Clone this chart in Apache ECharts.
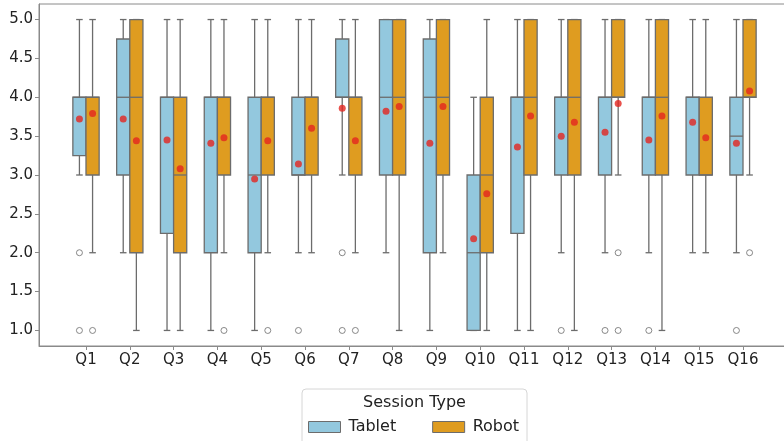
<!DOCTYPE html>
<html>
<head>
<meta charset="utf-8">
<title>Session Type ratings</title>
<script src="https://cdn.jsdelivr.net/npm/echarts@6/dist/echarts.min.js"></script>
<style>
  html, body { margin: 0; padding: 0; background: #fff; }
  #chart { width: 784px; height: 441px; }
</style>
</head>
<body>
<div id="chart"></div>
<script>
// Questionnaire items
const categories = ['Q1','Q2','Q3','Q4','Q5','Q6','Q7','Q8','Q9','Q10','Q11','Q12','Q13','Q14','Q15','Q16'];
const yTicks = [1.0, 1.5, 2.0, 2.5, 3.0, 3.5, 4.0, 4.5, 5.0];

// Tablet sessions: whisker low, Q1, median, Q3, whisker high, mean, outliers
const tabletLow    = [3, 2, 1, 1, 1, 2, 3, 2, 1, 1, 1, 2, 2, 2, 2, 2];
const tabletQ1     = [3.25, 3, 2.25, 2, 2, 3, 4, 3, 2, 1, 2.25, 3, 3, 3, 3, 3];
const tabletMedian = [4, 4, 4, 4, 3, 3, 4, 4, 4, 2, 4, 4, 4, 4, 4, 3.5];
const tabletQ3     = [4, 4.75, 4, 4, 4, 4, 4.75, 5, 4.75, 3, 4, 4, 4, 4, 4, 4];
const tabletHigh   = [5, 5, 5, 5, 5, 5, 5, 5, 5, 4, 5, 5, 5, 5, 5, 5];
const tabletMean   = [3.72, 3.72, 3.45, 3.41, 2.95, 3.14, 3.86, 3.82, 3.41, 2.18, 3.36, 3.50, 3.55, 3.45, 3.68, 3.41];
const tabletOutliers = [[2, 1], [], [], [], [], [1], [2, 1], [], [], [], [], [1], [1], [1], [], [1]];

// Robot sessions
const robotLow    = [2, 1, 1, 2, 2, 2, 2, 1, 2, 1, 1, 1, 3, 1, 2, 3];
const robotQ1     = [3, 2, 2, 3, 3, 3, 3, 3, 3, 2, 3, 3, 4, 3, 3, 4];
const robotMedian = [4, 4, 3, 4, 4, 4, 4, 4, 4, 3, 4, 4, 4, 4, 3, 4];
const robotQ3     = [4, 5, 4, 4, 4, 4, 4, 5, 5, 4, 5, 5, 5, 5, 4, 5];
const robotHigh   = [5, 5, 5, 5, 5, 5, 5, 5, 5, 5, 5, 5, 5, 5, 5, 5];
const robotMean   = [3.79, 3.44, 3.08, 3.48, 3.44, 3.60, 3.44, 3.88, 3.88, 2.76, 3.76, 3.68, 3.92, 3.76, 3.48, 4.08];
const robotOutliers = [[1], [], [], [1], [1], [], [1], [], [], [], [], [], [2, 1], [], [], [2]];

// Styling
const TABLET_COLOR = '#93c8de';
const ROBOT_COLOR = '#df9c20';
const LINE_COLOR = '#6c6c6c';
const MEAN_COLOR = '#e3261f';
const BOX_WIDTH = 0.3;     // in category units
const DODGE = 0.15;        // offset of each group from the category centre
const FONT = 'DejaVu Sans';

function boxRows(low, q1, med, q3, high) {
  return categories.map((c, i) => [i, low[i], q1[i], med[i], q3[i], high[i]]);
}

function makeBoxRenderer(offset, fill) {
  return function (params, api) {
    const x = api.value(0) + offset;
    const low = api.value(1), q1 = api.value(2), med = api.value(3), q3 = api.value(4), high = api.value(5);
    const half = BOX_WIDTH / 2;
    const cap = BOX_WIDTH / 4;
    const lineStyle = { stroke: LINE_COLOR, lineWidth: 1.3 };
    const seg = (a, b) => ({
      type: 'line',
      shape: { x1: a[0], y1: a[1], x2: b[0], y2: b[1] },
      style: lineStyle
    });
    const tl = api.coord([x - half, q3]);
    const br = api.coord([x + half, q1]);
    return {
      type: 'group',
      children: [
        seg(api.coord([x, q3]), api.coord([x, high])),
        seg(api.coord([x, q1]), api.coord([x, low])),
        seg(api.coord([x - cap, high]), api.coord([x + cap, high])),
        seg(api.coord([x - cap, low]), api.coord([x + cap, low])),
        {
          type: 'rect',
          shape: { x: tl[0], y: tl[1], width: br[0] - tl[0], height: br[1] - tl[1] },
          style: { fill: fill, stroke: LINE_COLOR, lineWidth: 1.3 }
        },
        seg(api.coord([x - half, med]), api.coord([x + half, med]))
      ]
    };
  };
}

function outlierPoints(list, offset) {
  const pts = [];
  list.forEach((vals, i) => vals.forEach(v => pts.push([i + offset, v])));
  return pts;
}

const outlierStyle = { color: 'rgba(255,255,255,0)', borderColor: '#6c6c6c', borderWidth: 1 };

const chart = echarts.init(document.getElementById('chart'), null, { renderer: 'canvas' });

chart.setOption({
  animation: false,
  backgroundColor: '#ffffff',
  grid: {
    left: 39, top: 4, width: 751, height: 342,
    containLabel: false,
    outerBoundsMode: 'none',
    show: true, borderColor: '#8a8a8a', borderWidth: 1
  },
  xAxis: {
    type: 'value',
    min: -1.073,
    max: 16.073,
    splitLine: { show: false },
    axisLine: { show: true, onZero: false, lineStyle: { color: '#8a8a8a', width: 1 } },
    axisTick: { show: true, length: 4, lineStyle: { color: '#8a8a8a' }, customValues: categories.map((c, i) => i) },
    axisLabel: {
      show: true, margin: 7, color: '#222', fontFamily: FONT, fontSize: 15,
      customValues: categories.map((c, i) => i),
      formatter: v => categories[Math.round(v)] || ''
    }
  },
  yAxis: {
    type: 'value',
    min: 0.8,
    max: 5.2,
    splitLine: { show: false },
    axisLine: { show: true, onZero: false, lineStyle: { color: '#8a8a8a', width: 1 } },
    axisTick: { show: true, length: 4, lineStyle: { color: '#8a8a8a' }, customValues: yTicks },
    axisLabel: {
      show: true, margin: 6, color: '#222', fontFamily: FONT, fontSize: 15,
      customValues: yTicks,
      formatter: v => Number(v).toFixed(1)
    }
  },
  legend: {
    data: ['Tablet', 'Robot'],
    orient: 'horizontal',
    left: 308,
    top: 419,
    padding: 0,
    itemWidth: 32,
    itemHeight: 11,
    itemGap: 36,
    icon: 'rect',
    itemStyle: { borderColor: LINE_COLOR, borderWidth: 1 },
    textStyle: { color: '#222', fontFamily: FONT, fontSize: 16, padding: [0, 0, 0, 3] }
  },
  graphic: [
    {
      type: 'rect',
      z: -1,
      shape: { x: 302, y: 389, width: 225, height: 60, r: 4 },
      style: { fill: '#ffffff', stroke: '#d6d6d6', lineWidth: 1 }
    },
    {
      type: 'text',
      x: 414.5,
      y: 403,
      style: {
        text: 'Session Type',
        fill: '#222',
        font: '16px "DejaVu Sans"',
        align: 'center',
        verticalAlign: 'middle'
      }
    }
  ],
  series: [
    {
      name: 'Tablet',
      type: 'custom',
      itemStyle: { color: TABLET_COLOR },
      renderItem: makeBoxRenderer(-DODGE, TABLET_COLOR),
      encode: { x: 0, y: [1, 2, 3, 4, 5] },
      data: boxRows(tabletLow, tabletQ1, tabletMedian, tabletQ3, tabletHigh),
      z: 2
    },
    {
      name: 'Robot',
      type: 'custom',
      itemStyle: { color: ROBOT_COLOR },
      renderItem: makeBoxRenderer(DODGE, ROBOT_COLOR),
      encode: { x: 0, y: [1, 2, 3, 4, 5] },
      data: boxRows(robotLow, robotQ1, robotMedian, robotQ3, robotHigh),
      z: 2
    },
    {
      name: 'Tablet outliers',
      type: 'scatter',
      symbol: 'circle',
      symbolSize: 6,
      itemStyle: outlierStyle,
      data: outlierPoints(tabletOutliers, -DODGE),
      z: 3
    },
    {
      name: 'Robot outliers',
      type: 'scatter',
      symbol: 'circle',
      symbolSize: 6,
      itemStyle: outlierStyle,
      data: outlierPoints(robotOutliers, DODGE),
      z: 3
    },
    {
      name: 'Tablet mean',
      type: 'scatter',
      symbol: 'circle',
      symbolSize: 7,
      itemStyle: { color: MEAN_COLOR },
      data: tabletMean.map((m, i) => [i - DODGE, m]),
      z: 4
    },
    {
      name: 'Robot mean',
      type: 'scatter',
      symbol: 'circle',
      symbolSize: 7,
      itemStyle: { color: MEAN_COLOR },
      data: robotMean.map((m, i) => [i + DODGE, m]),
      z: 4
    }
  ]
});
</script>
</body>
</html>
